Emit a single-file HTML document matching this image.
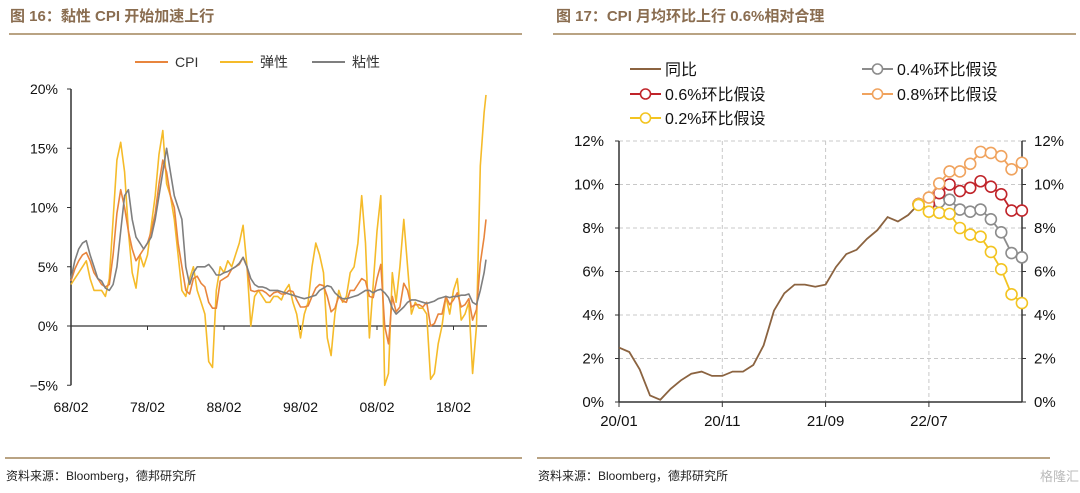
<!DOCTYPE html>
<html><head><meta charset="utf-8">
<style>
body{margin:0;background:#fff;width:1080px;height:493px;overflow:hidden;font-family:"Liberation Sans","Noto Sans CJK SC",sans-serif;}
svg{position:absolute;left:0;top:0}
</style></head>
<body>
<svg id="c" width="1080" height="493" xmlns="http://www.w3.org/2000/svg">
<text x="10" y="21" font-size="15" font-weight="bold" fill="#8a6d50" font-family="Liberation Sans, Noto Sans CJK SC, sans-serif">图 16：黏性 CPI 开始加速上行</text>
<line x1="9" y1="34" x2="522" y2="34" stroke="#b9a383" stroke-width="2"/>
<text x="556" y="21" font-size="15" font-weight="bold" fill="#8a6d50" font-family="Liberation Sans, Noto Sans CJK SC, sans-serif">图 17：CPI 月均环比上行 0.6%相对合理</text>
<line x1="553" y1="34" x2="1076" y2="34" stroke="#b9a383" stroke-width="2"/>
<line x1="5" y1="458" x2="522" y2="458" stroke="#b9a383" stroke-width="2"/>
<line x1="537" y1="458" x2="1050" y2="458" stroke="#b9a383" stroke-width="2"/>
<text x="6" y="480" font-size="12" fill="#222">资料来源：Bloomberg，德邦研究所</text>
<text x="538" y="480" font-size="12" fill="#222">资料来源：Bloomberg，德邦研究所</text>
<text x="1040" y="481" font-size="13" fill="#bbb">格隆汇</text>
<g id="L"></g><g id="R"></g>
</svg>
<script>
// ---- Left chart data (semi-annual from 1968/01, last point 2022/04) ----
const leftStart = 1968;
const sticky = [4.0,5.5,6.5,7.0,7.2,6.0,5.0,4.0,3.8,3.2,
3.0,3.5,5.0,8.0,11.0,11.5,9.0,7.5,7.0,6.5,
7.0,7.5,9.0,11.0,13.0,15.0,13.0,11.0,10.0,9.0,
5.0,3.5,4.5,5.0,5.0,5.0,5.2,4.8,4.3,4.3,
4.5,4.6,4.8,5.0,5.3,5.8,5.0,4.0,3.5,3.3,
3.3,3.2,3.0,3.0,3.0,2.9,2.8,2.7,2.6,2.5,
2.4,2.3,2.4,2.5,2.6,3.0,3.2,3.4,3.3,2.8,
2.5,2.3,2.3,2.4,2.5,2.6,2.8,3.0,3.0,2.8,
3.0,3.1,2.8,2.4,1.5,1.0,1.3,1.6,2.0,2.2,
2.2,2.1,2.0,1.9,2.0,2.1,2.3,2.4,2.5,2.4,
2.5,2.5,2.6,2.6,2.7,2.0,1.8,3.0,4.5,5.6];
const cpi = [3.8,4.8,5.5,6.0,6.2,5.5,4.5,4.0,3.5,3.3,
3.5,6.0,9.5,11.5,10.0,8.0,6.5,5.5,6.0,6.5,
7.0,8.0,9.5,12.0,14.0,13.0,11.0,10.0,7.0,5.0,
3.0,2.7,4.0,4.2,3.6,3.3,2.0,1.5,1.5,3.8,
4.0,4.2,4.8,5.0,5.2,5.8,5.0,3.0,2.9,3.0,
3.0,2.8,2.5,2.8,2.9,2.7,2.7,3.0,2.9,2.2,
1.6,1.6,1.7,2.5,3.2,3.5,3.4,2.5,1.2,1.5,
2.5,2.1,2.0,3.0,3.0,3.5,4.0,3.8,2.5,2.4,
4.0,5.2,0.0,-1.5,2.5,1.2,1.6,3.6,3.0,1.6,
1.8,1.8,1.6,2.0,0.0,0.2,1.0,1.0,2.5,1.8,
2.2,2.8,1.6,1.8,2.3,0.5,1.4,5.3,7.5,9.0];
const elastic = [3.5,4.0,4.5,5.0,5.5,4.0,3.0,3.0,3.0,2.5,
4.0,9.0,14.0,15.5,13.0,8.0,4.5,3.2,6.0,5.0,
6.0,8.5,11.0,14.5,16.5,12.0,11.0,9.0,6.0,3.0,
2.5,4.0,5.0,3.0,2.0,1.0,-3.0,-3.5,3.0,5.0,
4.5,5.5,5.0,6.0,7.0,8.5,5.0,0.0,2.5,3.0,
2.5,2.0,2.0,2.5,2.5,2.2,3.0,3.5,2.0,1.0,
-1.0,1.0,2.0,5.0,7.0,6.0,4.5,-1.0,-2.5,1.0,
3.0,2.0,2.5,4.5,5.0,7.0,11.0,7.0,-1.0,3.5,
8.0,11.0,-5.0,-4.0,4.5,2.0,5.0,9.0,5.0,1.0,
2.0,1.5,1.5,1.0,-4.5,-4.0,-1.5,0.0,2.5,1.0,
3.0,4.0,0.5,1.0,2.0,-4.0,0.0,13.5,18.0,19.5];
const leftYTicks = [20,15,10,5,0,-5];
const leftYLabels = ["20%","15%","10%","5%","0%","−5%"];
const leftXTicks = [1968,1978,1988,1998,2008,2018];
const leftXLabels = ["68/02","78/02","88/02","98/02","08/02","18/02"];

// ---- Right chart data (monthly from 2020/01) ----
const yoy = [2.5,2.3,1.5,0.3,0.1,0.6,1.0,1.3,1.4,1.2,1.2,1.4,1.4,1.7,2.6,4.2,5.0,5.4,5.4,5.3,5.4,6.2,6.8,7.0,7.5,7.9,8.5,8.3,8.6,9.1];
const scenStart = 29;
const s08 = [9.1,9.4,10.05,10.6,10.6,10.95,11.5,11.45,11.3,10.7,11.0];
const s06 = [9.1,9.1,9.6,10.0,9.7,9.85,10.15,9.9,9.55,8.8,8.8];
const s04 = [9.1,9.1,9.2,9.3,8.85,8.75,8.85,8.4,7.8,6.85,6.65];
const s02 = [9.06,8.75,8.7,8.65,8.0,7.7,7.6,6.9,6.1,4.95,4.55];
const rightYTicks = [0,2,4,6,8,10,12];
const rightXTicks = [0,10,20,30];
const rightXLabels = ["20/01","20/11","21/09","22/07"];

const NS="http://www.w3.org/2000/svg";
function mk(tag,attrs,parent,text){const e=document.createElementNS(NS,tag);for(const k in attrs)e.setAttribute(k,attrs[k]);if(text!==undefined)e.textContent=text;parent.appendChild(e);return e;}

// Left axes
const L=document.getElementById('L');
const lx=y=>71+(y-1968)*7.65;
const ly=v=>326-v*11.85;
let e=mk('line',{x1:71,y1:ly(20),x2:71,y2:ly(-5),stroke:'#333','stroke-width':1.5},L);


e=mk('line',{x1:71,y1:ly(0),x2:487,y2:ly(0),stroke:'#333','stroke-width':1.2},L);


leftYTicks.forEach((t,i)=>{
 mk('line',{x1:67,y1:ly(t),x2:71,y2:ly(t),stroke:'#333'},L);
 const tx=mk('text',{x:58,y:ly(t)+5,'font-size':14,'text-anchor':'end',fill:'#111'},L,leftYLabels[i]);
 
 
});
leftXTicks.forEach((t,i)=>{
 mk('line',{x1:lx(t),y1:ly(0),x2:lx(t),y2:ly(0)+4,stroke:'#333'},L);
 const tx=mk('text',{x:lx(t),y:412,'font-size':14,'text-anchor':'middle',fill:'#111'},L,leftXLabels[i]);
 
 
});
function lpath(arr,color,name){
 const d=arr.map((v,i)=>(i?'L':'M')+lx(Math.min(leftStart+i*0.5,2022.25)).toFixed(1)+','+ly(v).toFixed(1)).join('');
 const p=mk('path',{d:d,fill:'none',stroke:color,'stroke-width':1.6,'stroke-linejoin':'round'},L);
 
 
}
lpath(elastic,'#f5bb2a','elastic-cpi-line');
lpath(cpi,'#e8853d','cpi-line');
lpath(sticky,'#7f7f7f','sticky-cpi-line');
// left legend
[['#e8853d','CPI',135],['#f5bb2a','弹性',220],['#7f7f7f','粘性',312]].forEach(([c,t,x])=>{
 const g=mk('g',{},L);
 
 
 mk('line',{x1:x,y1:62,x2:x+33,y2:62,stroke:c,'stroke-width':2},g);
 mk('text',{x:x+40,y:67,'font-size':14,fill:'#333'},g,t);
});

// Right axes
const R=document.getElementById('R');
const rx=i=>619+i*10.33;
const ry=v=>402-v*21.75;
rightYTicks.forEach(t=>{
 if(t>0){const g=mk('line',{x1:619,y1:ry(t),x2:1022,y2:ry(t),stroke:'#c8c8c8','stroke-dasharray':'4,3'},R);
 
 }
 let a=mk('text',{x:604,y:ry(t)+5,'font-size':15,'text-anchor':'end',fill:'#111'},R,t+'%');
 
 
 a=mk('text',{x:1034,y:ry(t)+5,'font-size':15,fill:'#111'},R,t+'%');
 
 
 mk('line',{x1:615,y1:ry(t),x2:619,y2:ry(t),stroke:'#333'},R);
 mk('line',{x1:1022,y1:ry(t),x2:1026,y2:ry(t),stroke:'#333'},R);
});
rightXTicks.forEach((t,i)=>{
 if(t>0){mk('line',{x1:rx(t),y1:ry(12),x2:rx(t),y2:ry(0),stroke:'#c8c8c8','stroke-dasharray':'4,3'},R);}
 mk('line',{x1:rx(t),y1:ry(0),x2:rx(t),y2:ry(0)+5,stroke:'#333'},R);
 const a=mk('text',{x:rx(t),y:426,'font-size':15,'text-anchor':'middle',fill:'#111'},R,rightXLabels[i]);
 
 
});
e=mk('line',{x1:619,y1:ry(12),x2:619,y2:ry(0),stroke:'#333','stroke-width':1.5},R);


e=mk('line',{x1:1022,y1:ry(12),x2:1022,y2:ry(0),stroke:'#333','stroke-width':1.5},R);


e=mk('line',{x1:619,y1:ry(0),x2:1022,y2:ry(0),stroke:'#333','stroke-width':1.5},R);


e=mk('path',{d:yoy.map((v,i)=>(i?'L':'M')+rx(i).toFixed(1)+','+ry(v).toFixed(1)).join(''),fill:'none',stroke:'#8b6340','stroke-width':1.8},R);


function scen(arr,color,name){
 const g=mk('g',{},R);
 
 
 mk('path',{d:arr.map((v,i)=>(i?'L':'M')+rx(scenStart+i).toFixed(1)+','+ry(v).toFixed(1)).join(''),fill:'none',stroke:color,'stroke-width':1.8},g);
 arr.forEach((v,i)=>{
  const c=mk('circle',{cx:rx(scenStart+i),cy:ry(v),r:5.5,fill:'#fff',stroke:color,'stroke-width':1.6},g);
  
  
 });
}
scen(s04,'#8c8c8c','scenario-0.4-series');
scen(s06,'#c0242a','scenario-0.6-series');
scen(s08,'#f0a35e','scenario-0.8-series');
scen(s02,'#f3c421','scenario-0.2-series');
// right legend
[['#8b6340','同比',630,69,false],['#8c8c8c','0.4%环比假设',862,69,true],['#c0242a','0.6%环比假设',630,94,true],['#f0a35e','0.8%环比假设',862,94,true],['#f3c421','0.2%环比假设',630,118,true]].forEach(([c,t,x,y,m])=>{
 const g=mk('g',{},R);
 
 
 mk('line',{x1:x,y1:y,x2:x+31,y2:y,stroke:c,'stroke-width':2},g);
 if(m)mk('circle',{cx:x+15.5,cy:y,r:5,fill:'#fff',stroke:c,'stroke-width':1.6},g);
 mk('text',{x:x+35,y:y+6,'font-size':16,fill:'#111'},g,t);
});
</script>
</body></html>
